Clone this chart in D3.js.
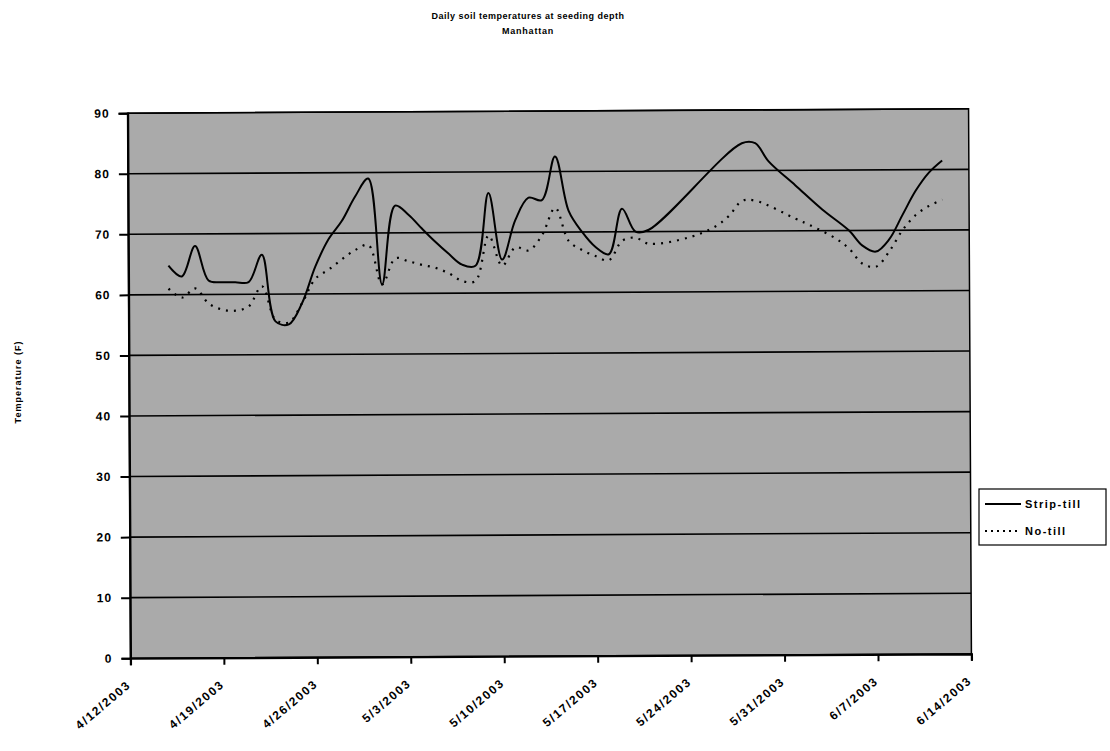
<!DOCTYPE html>
<html>
<head>
<meta charset="utf-8">
<script src="https://cdn.jsdelivr.net/npm/d3@7"></script>
<style>
  body { margin: 0; background: #fff; }
  svg text { font-family: "Liberation Sans", Arial, sans-serif; font-weight: bold; fill: #000; }
</style>
</head>
<body>
<div id="chart"></div>
<script>
// Strip-till series
const stripDates = ["4/15/2003","4/16/2003","4/17/2003","4/18/2003","4/19/2003","4/20/2003","4/21/2003","4/22/2003",
  "4/23/2003","4/24/2003","4/25/2003","4/26/2003","4/27/2003","4/28/2003","4/29/2003","4/30/2003","5/1/2003","5/2/2003",
  "5/3/2003","5/4/2003","5/5/2003","5/6/2003","5/7/2003","5/8/2003","5/9/2003","5/10/2003","5/11/2003","5/12/2003",
  "5/13/2003","5/14/2003","5/15/2003","5/16/2003","5/17/2003","5/18/2003","5/19/2003","5/20/2003","5/21/2003",
  "5/28/2003","5/29/2003","5/30/2003","6/1/2003","6/3/2003","6/5/2003","6/6/2003","6/7/2003","6/8/2003","6/9/2003",
  "6/10/2003","6/11/2003","6/12/2003"];
const stripTemps = [64.8,63,68,62.3,62,62,62,66.5,
  55.5,55,58.5,64.5,69,72,76,79,61.5,74.5,
  73,70.7,68.5,66.5,64.7,64.5,76.5,65.5,72,75.7,
  75.3,82.5,73.5,70,67.5,66.3,73.8,70,70.3,
  84.5,84.5,81.5,77.5,73.5,70,67.5,66.5,68.5,72.5,
  76.5,79.5,81.5];

// No-till series
const noTillDates = ["4/15/2003","4/16/2003","4/17/2003","4/18/2003","4/19/2003","4/20/2003","4/21/2003","4/22/2003",
  "4/23/2003","4/24/2003","4/25/2003","4/26/2003","4/27/2003","4/28/2003","4/29/2003","4/30/2003","5/1/2003","5/2/2003",
  "5/3/2003","5/4/2003","5/5/2003","5/6/2003","5/7/2003","5/8/2003","5/9/2003","5/10/2003","5/11/2003","5/12/2003",
  "5/13/2003","5/14/2003","5/15/2003","5/16/2003","5/17/2003","5/18/2003","5/19/2003","5/20/2003","5/21/2003",
  "5/24/2003","5/26/2003","5/27/2003","5/28/2003","5/29/2003","6/1/2003","6/2/2003","6/4/2003","6/5/2003","6/6/2003",
  "6/7/2003","6/8/2003","6/9/2003","6/10/2003","6/11/2003","6/12/2003"];
const noTillTemps = [61,59.5,61,58.5,57.5,57.3,58,61.3,
  55.8,55.3,58.5,62.5,64,65.7,67.2,68,61.5,65.8,
  65.3,64.7,64.2,63.3,62,62,69.5,64.5,67.5,67,
  69.5,74,68.5,67,66,65.3,68.5,69,68,
  69,70.8,72.5,75,75,72,71,68.7,67,64.5,
  64,66.5,70,72.5,74,75];

const xTicks = ["4/12/2003","4/19/2003","4/26/2003","5/3/2003","5/10/2003","5/17/2003","5/24/2003","5/31/2003","6/7/2003","6/14/2003"];
const yTicks = [0,10,20,30,40,50,60,70,80,90];
const seriesNames = ["Strip-till","No-till"];

const W = 1110, H = 751;
const plot = { left: 129, right: 970, top: 111, bottom: 656 };
const parse = d3.timeParse("%m/%d/%Y");

const svg = d3.select("#chart").append("svg")
    .attr("width", W)
    .attr("height", H);

// title
const title = svg.append("g").attr("transform", "translate(528,0)");
title.append("text").attr("y", 19).attr("text-anchor", "middle")
    .style("font-size", "9px").style("letter-spacing", "0.5px")
    .text("Daily soil temperatures at seeding depth");
title.append("text").attr("y", 34).attr("text-anchor", "middle")
    .style("font-size", "9px").style("letter-spacing", "0.8px")
    .text("Manhattan");

// the scan is slightly tilted
const cx = (plot.left + plot.right) / 2, cy = (plot.top + plot.bottom) / 2;
const g = svg.append("g").attr("transform", `rotate(-0.3,${cx},${cy})`);

const x = d3.scaleTime()
    .domain([parse(xTicks[0]), parse(xTicks[xTicks.length - 1])])
    .range([plot.left, plot.right]);
const y = d3.scaleLinear().domain([0, 90]).range([plot.bottom, plot.top]);

// plot background
g.append("rect")
    .attr("x", plot.left).attr("y", plot.top)
    .attr("width", plot.right - plot.left).attr("height", plot.bottom - plot.top)
    .attr("fill", "#aaaaaa")
    .attr("stroke", "#000").attr("stroke-width", 1.5);

// gridlines
g.selectAll(".grid").data(yTicks.slice(1)).enter().append("line")
    .attr("class", "grid")
    .attr("x1", plot.left).attr("x2", plot.right)
    .attr("y1", d => y(d)).attr("y2", d => y(d))
    .attr("stroke", "#000").attr("stroke-width", 1.6);

// y axis
const yAxis = g.append("g")
    .attr("transform", `translate(${plot.left},0)`)
    .call(d3.axisLeft(y).tickValues(yTicks).tickSize(9).tickPadding(9).tickFormat(d3.format("d")));
yAxis.select(".domain").attr("stroke-width", 2.2);
yAxis.selectAll(".tick line").attr("stroke-width", 2);
yAxis.selectAll("text")
    .style("font-size", "12px").style("letter-spacing", "1px")
    .style("font-family", "'Liberation Sans', Arial, sans-serif").style("font-weight", "bold");

// x axis
const xAxis = g.append("g")
    .attr("transform", `translate(0,${plot.bottom})`)
    .call(d3.axisBottom(x).tickValues(xTicks.map(parse)).tickSize(7).tickFormat(""));
xAxis.select(".domain").attr("stroke-width", 2.2);
xAxis.selectAll(".tick line").attr("stroke-width", 2);

g.selectAll(".xlab").data(xTicks).enter().append("text")
    .attr("class", "xlab")
    .attr("text-anchor", "end")
    .attr("transform", d => `translate(${x(parse(d)) + 1},${plot.bottom + 28}) rotate(-40)`)
    .style("font-size", "12px").style("letter-spacing", "1.6px")
    .text(d => d);

// y axis label
svg.append("text")
    .attr("transform", "translate(21,382) rotate(-90)")
    .attr("text-anchor", "middle")
    .style("font-size", "9px").style("letter-spacing", "1px")
    .text("Temperature (F)");

// lines
const line = d3.line()
    .x(d => x(d.date))
    .y(d => y(d.value))
    .curve(d3.curveCatmullRom.alpha(0.5));

const stripData = stripDates.map((d, i) => ({ date: parse(d), value: stripTemps[i] }));
const noTillData = noTillDates.map((d, i) => ({ date: parse(d), value: noTillTemps[i] }));

g.append("path").datum(noTillData)
    .attr("d", line)
    .attr("fill", "none")
    .attr("stroke", "#000").attr("stroke-width", 2.2)
    .attr("stroke-dasharray", "2,6");

g.append("path").datum(stripData)
    .attr("d", line)
    .attr("fill", "none")
    .attr("stroke", "#000").attr("stroke-width", 2);

// legend
const legend = svg.append("g").attr("transform", "translate(979,489)");
legend.append("rect")
    .attr("width", 127).attr("height", 56)
    .attr("fill", "#fff").attr("stroke", "#000").attr("stroke-width", 1.2);
const items = legend.selectAll(".item").data(seriesNames).enter().append("g")
    .attr("class", "item")
    .attr("transform", (d, i) => `translate(0,${15 + i * 27})`);
items.append("line")
    .attr("x1", 6).attr("x2", 42)
    .attr("stroke", "#000").attr("stroke-width", 2)
    .attr("stroke-dasharray", (d, i) => i === 1 ? "2,4" : null);
items.append("text")
    .attr("x", 46).attr("y", 4)
    .style("font-size", "11px").style("letter-spacing", "1.5px")
    .text(d => d);
</script>
</body>
</html>
